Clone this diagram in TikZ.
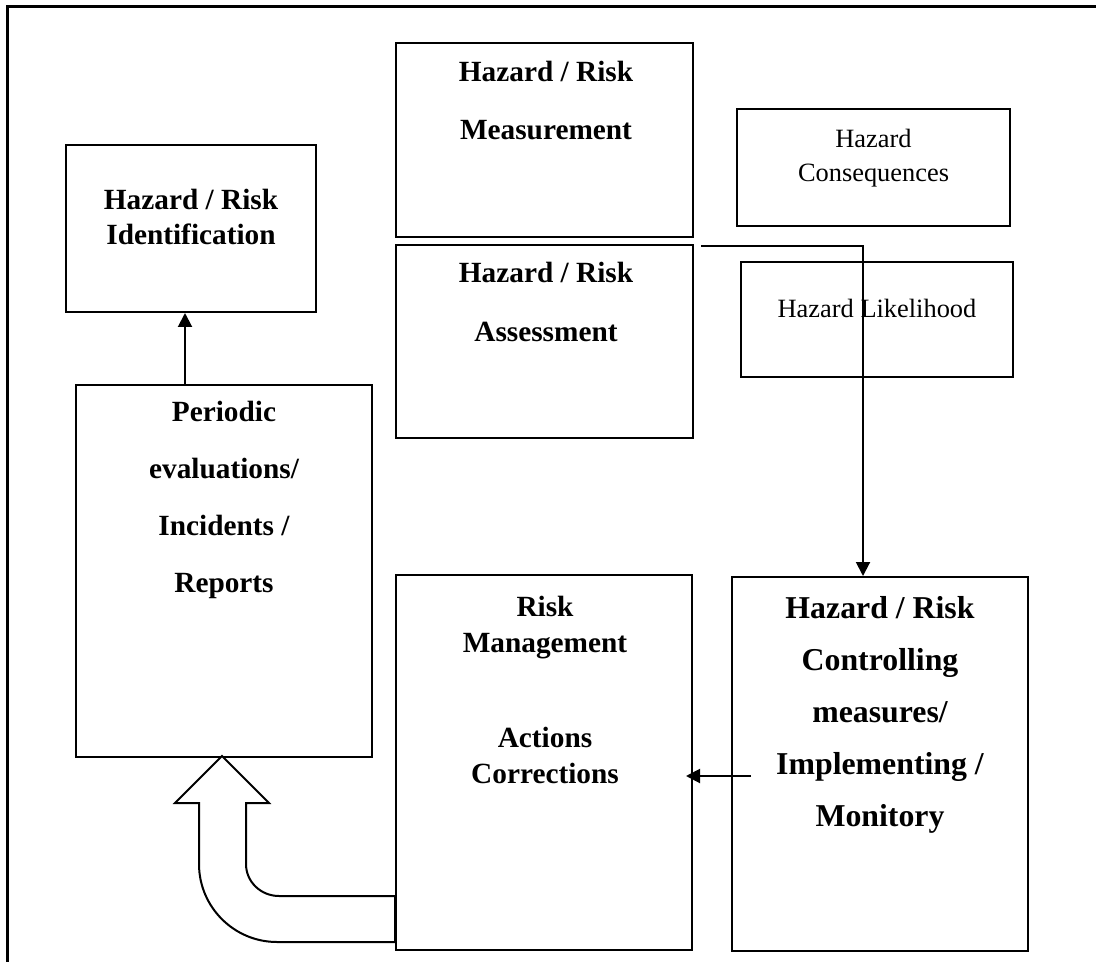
\documentclass[tikz,border=0pt]{standalone}
\usepackage{fontspec}
\setmainfont{Liberation Serif}
\usetikzlibrary{arrows.meta,calc,fit}
\tikzstyle{box}=[draw,line width=1pt,inner sep=0pt]
\tikzstyle{edge}=[draw,line width=1pt,-{Triangle[length=7pt,width=7pt]}]
\tikzstyle{frame}=[draw,line width=1.5pt]
\tikzstyle{bigarrow}=[draw,line width=1pt,fill=white]
\tikzstyle{plaintext}=[align=center,anchor=north,inner sep=0pt,font=\fontsize{13.2}{17}\selectfont]
\tikzstyle{bigtext}=[align=center,anchor=north,inner sep=0pt,font=\bfseries\fontsize{15.9}{26}\selectfont]
\tikzset{boxtext/.style={align=center,anchor=north,inner sep=0pt,font=\bfseries\fontsize{14.65}{#1}\selectfont}}

\begin{document}
\begin{tikzpicture}[x=0.5pt,y=-0.5pt]
    \useasboundingbox (0,0) rectangle (1096,962);

    % page frame
    \draw[frame] (7,962) -- (7,7) -- (1096,7);

    % boxes
    \node[box,fit={(66,145) (316,312)}] (ident) {};
    \node[box,fit={(76,385) (372,757)}] (period) {};
    \node[box,fit={(396,43) (693,237)}] (meas) {};
    \node[box,fit={(396,245) (693,438)}] (assess) {};
    \node[box,fit={(737,109) (1010,226)}] (conseq) {};
    \node[box,fit={(741,262) (1013,377)}] (likeli) {};
    \node[box,fit={(396,575) (692,950)}] (mgmt) {};
    \node[box,fit={(732,577) (1028,951)}] (ctrl) {};

    % texts
    \node[boxtext=17.5pt] (identtxt) at (191,189) {Hazard / Risk\\Identification};
    \node[boxtext=29pt] (meastxt) at (546,61) {Hazard / Risk\\Measurement};
    \node[boxtext=29.5pt] (assesstxt) at (546,262) {Hazard / Risk\\Assessment};
    \node[boxtext=28.5pt] (periodtxt) at (224,401) {Periodic\\evaluations/\\Incidents /\\Reports};
    \node[boxtext=18pt] (mgmttxt) at (545,596) {Risk\\Management\\[29.5pt]Actions\\Corrections};
    \node[bigtext] (ctrltxt) at (880,596) {Hazard / Risk\\Controlling\\measures/\\Implementing /\\Monitory};
    \node[plaintext] (conseqtxt) at (873.5,129) {Hazard\\Consequences};
    \node[plaintext] (likelitxt) at (877,299) {Hazard Likelihood};

    % connectors
    \draw[edge] ([xshift=-3pt]ident.south |- period.north) -- ([xshift=-3pt]ident.south);
    \coordinate (assessout) at ($(assess.north east)+(7,2)$);
    \draw[edge] (assessout) -| ($(ctrl.north)+(-17,0)$);
    \coordinate (ctrlout) at ($(ctrl.west)+(20,12)$);
    \draw[edge] (ctrlout) -- ($(mgmt.east |- ctrlout)+(-7,0)$);

    % big u-turn arrow
    \draw[bigarrow] (395,942) -- (277,942) .. controls (234,942) and (199,907) .. (199,864)
        -- (199,803) -- (175,803) -- (222,756) -- (269,803) -- (246,803) -- (246,864)
        .. controls (246,882) and (261,896) .. (279,896) -- (395,896) -- cycle;
\end{tikzpicture}
\end{document}
